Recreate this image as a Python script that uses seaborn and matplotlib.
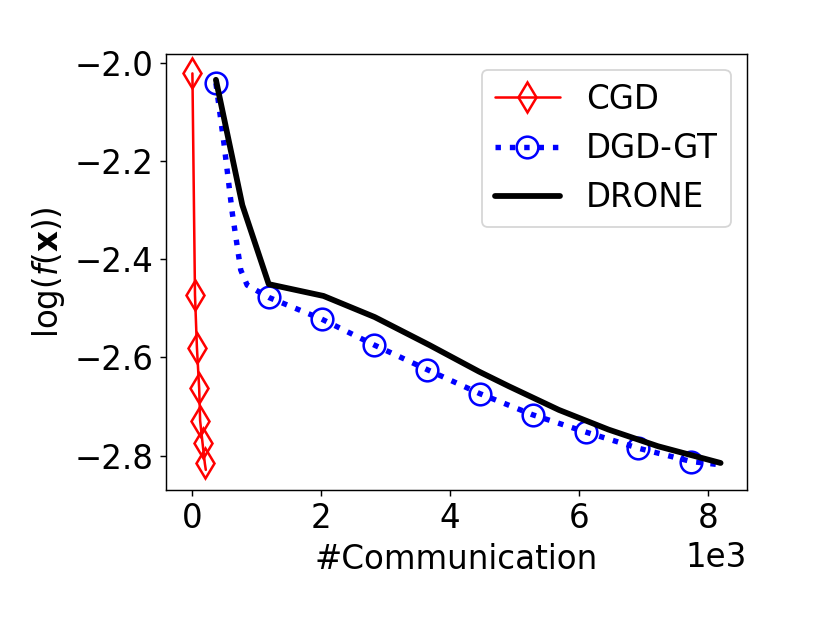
import seaborn as sns
import matplotlib.pyplot as plt

# values
cgd_comm = [0, 40, 70, 105, 120, 157, 193, 208]
cgd_loss = [-2.022, -2.473, -2.580, -2.663, -2.729, -2.774, -2.816, -2.829]

dgd_comm = [365, 490, 620, 750, 850, 1185, 2005, 2825, 3645, 4465, 5285, 6105, 6925, 7745, 8150]
dgd_loss = [-2.042, -2.165, -2.307, -2.422, -2.453, -2.478, -2.522, -2.575, -2.625,
            -2.674, -2.717, -2.752, -2.785, -2.812, -2.818]

drone_comm = [365, 775, 1185, 2035, 2830, 3680, 4450, 4915, 5690, 6460, 7230, 8200]
drone_loss = [-2.035, -2.290, -2.451, -2.475, -2.518, -2.575, -2.629, -2.659,
              -2.707, -2.747, -2.781, -2.815]

sns.set_style("ticks")
plt.rcParams['font.family'] = ['DejaVu Sans']
plt.rcParams['axes.edgecolor'] = 'black'
plt.rcParams['axes.labelcolor'] = 'black'
plt.rcParams['text.color'] = 'black'
plt.rcParams['xtick.color'] = 'black'
plt.rcParams['ytick.color'] = 'black'
plt.rcParams['xtick.labelsize'] = 18
plt.rcParams['ytick.labelsize'] = 18

fig, ax = plt.subplots(figsize=(8.3 / 1.3, 6.23 / 1.3), dpi=130)
fig.subplots_adjust(left=0.2, right=0.9, bottom=0.214, top=0.914)

sns.lineplot(x=cgd_comm, y=cgd_loss, ax=ax, color='red', lw=1.4, marker='d',
             markersize=11.5, markerfacecolor='none', markeredgecolor='red',
             markeredgewidth=1.4, markevery=list(range(7)), label='CGD')
sns.lineplot(x=dgd_comm, y=dgd_loss, ax=ax, color='blue', lw=3, linestyle=':',
             marker='o', markersize=12, markerfacecolor='none', markeredgecolor='blue',
             markeredgewidth=1.4, markevery=[0, 5, 6, 7, 8, 9, 10, 11, 12, 13],
             label='DGD-GT')
sns.lineplot(x=drone_comm, y=drone_loss, ax=ax, color='black', lw=3.2, label='DRONE')

ax.ticklabel_format(style='sci', axis='x', scilimits=(0, 0))
ax.xaxis.get_offset_text().set_fontsize(18)
ax.set_yticks([-2.0, -2.2, -2.4, -2.6, -2.8])
ax.set_xlabel('#Communication', fontsize=18)
ax.set_ylabel(r'$\log(f(\mathbf{x}))$', fontsize=18)
ax.legend(loc='upper right', fontsize=18)

plt.savefig('out.png', dpi=130)
